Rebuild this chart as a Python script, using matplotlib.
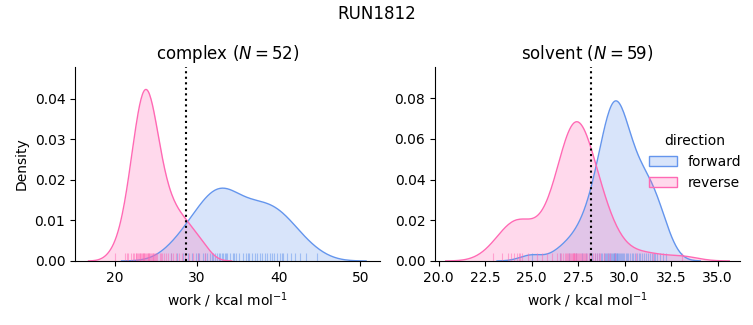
import numpy as np
import matplotlib
matplotlib.use('Agg')
import matplotlib.pyplot as plt
from matplotlib.patches import Patch

complex_forward = [26.8, 27.6, 28.3, 28.9, 29.4, 29.9, 30.1, 30.3, 30.7, 31.0,
                   31.3, 31.6, 31.9, 32.0, 32.2, 32.5, 32.7, 32.8, 33.1, 33.2,
                   33.4, 33.6, 33.7, 34.0, 34.4, 34.6, 34.8, 35.2, 35.6, 36.0,
                   36.2, 36.4, 36.8, 37.1, 37.4, 37.7, 38.0, 38.3, 38.6, 38.9,
                   39.2, 39.5, 39.8, 40.2, 40.4, 40.6, 41.0, 41.5, 42.0, 42.6,
                   43.3, 44.7]
complex_reverse = [20.0, 21.2, 21.4, 21.6, 21.9, 22.2, 22.3, 22.5, 22.6, 22.7,
                   22.8, 22.9, 23.0, 23.1, 23.2, 23.3, 23.4, 23.45, 23.5, 23.6,
                   23.7, 23.8, 23.9, 24.0, 24.05, 24.1, 24.2, 24.3, 24.4, 24.5,
                   24.6, 24.7, 24.8, 24.9, 25.0, 25.15, 25.45, 25.6, 25.8, 26.0,
                   26.2, 26.5, 26.8, 27.1, 27.4, 27.8, 28.2, 28.6, 29.0, 29.5,
                   30.2, 31.0]
solvent_forward = [25.0, 26.5, 27.0, 27.4, 27.7, 27.9, 28.1, 28.25, 28.4, 28.5,
                   28.6, 28.7, 28.8, 28.87, 28.94, 29.0, 29.06, 29.12, 29.18, 29.23,
                   29.28, 29.33, 29.37, 29.41, 29.45, 29.47, 29.49, 29.53, 29.57, 29.61,
                   29.65, 29.7, 29.75, 29.8, 29.86, 29.92, 29.98, 30.05, 30.12, 30.2,
                   30.28, 30.37, 30.46, 30.55, 30.65, 30.75, 30.85, 30.95, 31.05, 31.15,
                   31.25, 31.35, 31.45, 31.55, 31.65, 31.75, 31.9, 32.05, 32.2]
solvent_reverse = [22.9, 23.4, 23.7, 23.9, 24.05, 24.2, 24.3, 24.35, 24.5, 24.8,
                   25.3, 25.55, 25.8, 26.1, 26.35, 26.5, 26.6, 26.7, 26.8, 26.85,
                   26.9, 26.95, 27.0, 27.05, 27.1, 27.15, 27.2, 27.22, 27.25, 27.28,
                   27.3, 27.35, 27.38, 27.4, 27.45, 27.5, 27.55, 27.6, 27.65, 27.7,
                   27.75, 27.8, 27.85, 27.9, 28.0, 28.1, 28.2, 28.3, 28.4, 28.5,
                   28.6, 28.65, 28.9, 29.1, 29.2, 29.5, 30.6, 31.5, 33.1]

# dotted reference lines
complex_line = 28.7
solvent_line = 28.2

colors = {'forward': '#6495ED', 'reverse': '#FF69B4'}
# density normalised over all four groups together (both phases, both directions)
total = len(complex_forward) + len(complex_reverse) + len(solvent_forward) + len(solvent_reverse)


def kde(values):
    x = np.asarray(values)
    bw = x.std(ddof=1) * len(x) ** (-1 / 5)
    grid = np.linspace(x.min() - 3 * bw, x.max() + 3 * bw, 200)
    dens = np.exp(-0.5 * ((grid[:, None] - x[None, :]) / bw) ** 2).sum(axis=1)
    dens = dens / (bw * np.sqrt(2 * np.pi))
    return grid, dens / total


def panel(ax, fwd, rev, line, title):
    for name, vals in [('forward', fwd), ('reverse', rev)]:
        c = colors[name]
        g, d = kde(vals)
        ax.fill_between(g, d, color=c, alpha=0.25, lw=0)
        ax.plot(g, d, color=c, lw=1)
        ax.vlines(vals, 0, 0.04, transform=ax.get_xaxis_transform(),
                  color=c, alpha=0.5, lw=0.8)
    ax.axvline(line, color='k', ls=':', lw=1.5)
    ax.set_title(title, fontsize=12)
    ax.set_xlabel('work / kcal mol$^{-1}$')
    ax.spines['top'].set_visible(False)
    ax.spines['right'].set_visible(False)


fig = plt.figure(figsize=(7.53, 3.25), dpi=100)
ax1 = fig.add_axes([0.0996, 0.197, 0.405, 0.597])
ax2 = fig.add_axes([0.5777, 0.197, 0.405, 0.597])

panel(ax1, complex_forward, complex_reverse, complex_line,
      'complex ($N = %d$)' % len(complex_forward))
panel(ax2, solvent_forward, solvent_reverse, solvent_line,
      'solvent ($N = %d$)' % len(solvent_forward))

ax1.set_xlim(15.1, 52.4)
ax1.set_ylim(0, 0.0479)
ax1.set_xticks([20, 30, 40, 50])
ax1.set_ylabel('Density')
ax2.set_xlim(19.8, 36.2)
ax2.set_ylim(0, 0.0953)
ax2.set_xticks([20.0, 22.5, 25.0, 27.5, 30.0, 32.5, 35.0])
ax2.set_xticklabels(['20.0', '22.5', '25.0', '27.5', '30.0', '32.5', '35.0'])

handles = [Patch(facecolor=matplotlib.colors.to_rgba(colors[k], 0.25),
                 edgecolor=colors[k]) for k in colors]
ax2.legend(handles, list(colors), title='direction', frameon=False,
           loc='center left', bbox_to_anchor=(0.66, 0.51))

fig.suptitle('RUN1812', fontsize=12, y=0.985)
fig.savefig('out.png', dpi=100)
